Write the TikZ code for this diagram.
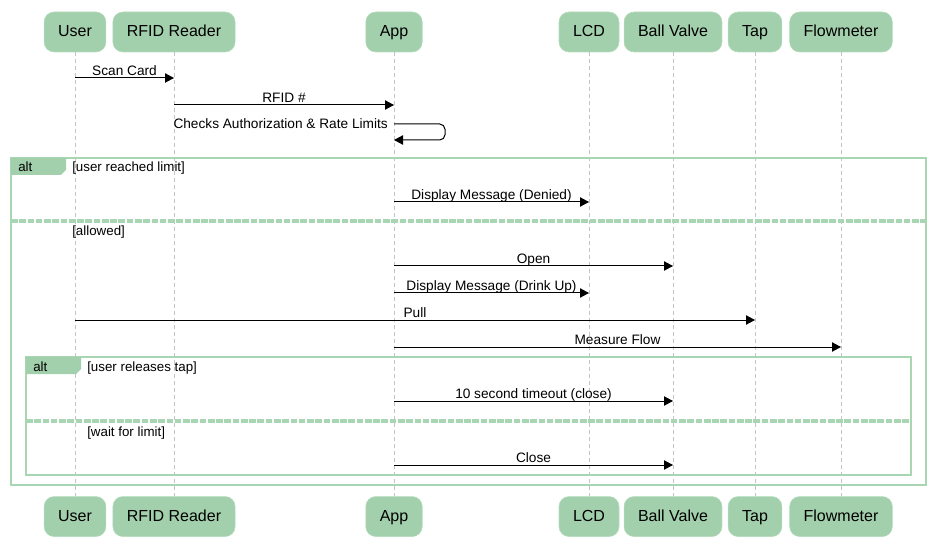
\documentclass[tikz,border=0pt]{standalone}
\usepackage{fontspec}
\setmainfont{Liberation Sans}
\usepackage{xcolor}
\usepackage{tikz}
\usetikzlibrary{arrows.meta, positioning}

\definecolor{actorfill}{RGB}{163,208,172}
\definecolor{actorline}{RGB}{180,220,189}
\definecolor{framecol}{RGB}{168,213,178}
\definecolor{lifegray}{RGB}{196,196,196}

\begin{document}
\begin{tikzpicture}[x=0.75pt, y=-0.75pt]
\tikzstyle{actor} = [rectangle, rounded corners=7.5pt, draw=actorline, fill=actorfill, minimum height=30pt, inner xsep=10.5pt, text height=9.2pt, text depth=1.8pt, font=\fontsize{12}{14}\selectfont]
\tikzstyle{life} = [lifegray, line width=0.75pt, dash pattern=on 3pt off 2.25pt]
\tikzstyle{msg} = [-{Triangle[length=6.75pt,width=7pt]}, line width=0.75pt]
\tikzstyle{lbl} = [font=\fontsize{10.25}{12}\selectfont, inner sep=0pt, anchor=base]
\tikzstyle{guard} = [font=\fontsize{10}{12}\selectfont, inner sep=0pt, anchor=base west]
\tikzstyle{frame} = [draw=framecol, line width=1.5pt]
\tikzstyle{divider} = [draw=framecol, line width=2.4pt, dash pattern=on 5pt off 1.2pt]

\useasboundingbox (0,0) rectangle (935,545);

% participants
\node (user) [actor] at (75,32) {User};
\node (rfid) [actor] at (174,32) {RFID Reader};
\node (app) [actor] at (394,32) {App};
\node (lcd) [actor] at (589,32) {LCD};
\node (valve) [actor] at (673,32) {Ball Valve};
\node (tap) [actor] at (755,32) {Tap};
\node (flow) [actor] at (841,32) {Flowmeter};

\node (user-b) [actor, below=333pt of user] {User};
\node (rfid-b) [actor, below=333pt of rfid] {RFID Reader};
\node (app-b) [actor, below=333pt of app] {App};
\node (lcd-b) [actor, below=333pt of lcd] {LCD};
\node (valve-b) [actor, below=333pt of valve] {Ball Valve};
\node (tap-b) [actor, below=333pt of tap] {Tap};
\node (flow-b) [actor, below=333pt of flow] {Flowmeter};

\foreach \a in {user, rfid, app, lcd, valve, tap, flow}
  \draw [life] (\a.south) -- (\a-b.north);

% alt frames
\draw [frame] (11,158) rectangle (926,485);
\fill [actorfill] (11,158) -- (66,158) -- (66,170) -- (61,175) -- (11,175) -- cycle;
\node (alt1) [guard] at (18,172) {alt};
\node (g1) [guard] at (72,172) {[user reached limit]};
\draw [divider] (11,221) -- (926,221);
\node (g2) [guard] at (72,236) {[allowed]};

\draw [frame] (26,357) rectangle (911,475);
\fill [actorfill] (26,357) -- (81,357) -- (81,369) -- (76,374) -- (26,374) -- cycle;
\node (alt2) [guard] at (33,371) {alt};
\node (g3) [guard] at (87,371) {[user releases tap]};
\draw [divider] (26,421) -- (911,421);
\node (g4) [guard] at (87,436) {[wait for limit]};

% messages
\draw [msg] (user |- 0,78) -- (rfid |- 0,78) node (m1) [lbl, midway, yshift=1.9pt] {Scan Card};
\draw [msg] (rfid |- 0,105) -- (app |- 0,105) node (m2) [lbl, midway, yshift=2.2pt] {RFID \#};
\draw [msg, rounded corners=4pt] (app |- 0,124) -- (445,124) -- (445,140) -- (app |- 0,140);
\node (m3) [lbl, anchor=base east] at (388,129) {Checks Authorization \& Rate Limits};
\draw [msg] (app |- 0,202) -- (lcd |- 0,202) node (m4) [lbl, midway, yshift=2.2pt] {Display Message (Denied)};
\draw [msg] (app |- 0,266) -- (valve |- 0,266) node (m5) [lbl, midway, yshift=2.2pt] {Open};
\draw [msg] (app |- 0,293) -- (lcd |- 0,293) node (m6) [lbl, midway, yshift=2.2pt] {Display Message (Drink Up)};
\draw [msg] (user |- 0,320) -- (tap |- 0,320) node (m7) [lbl, midway, yshift=2.2pt] {Pull};
\draw [msg] (app |- 0,347) -- (flow |- 0,347) node (m8) [lbl, midway, yshift=2.2pt] {Measure Flow};
\draw [msg] (app |- 0,401) -- (valve |- 0,401) node (m9) [lbl, midway, yshift=2.2pt] {10 second timeout (close)};
\draw [msg] (app |- 0,465) -- (valve |- 0,465) node (m10) [lbl, midway, yshift=2.2pt] {Close};

\end{tikzpicture}
\end{document}
